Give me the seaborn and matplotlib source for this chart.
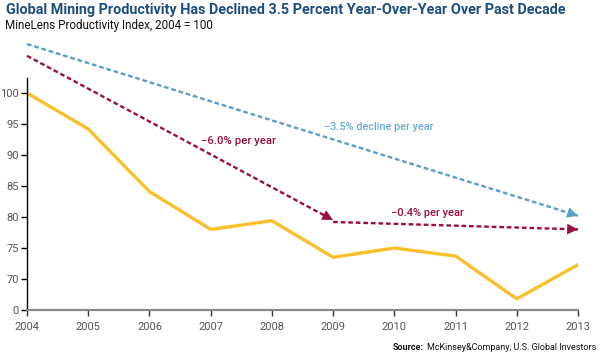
import matplotlib
matplotlib.use("Agg")
import matplotlib.pyplot as plt
import seaborn as sns
import pandas as pd

# ---- data ----
years = [2004, 2005, 2006, 2007, 2008, 2009, 2010, 2011, 2012, 2013]
productivity = [100.0, 94.2, 84.1, 78.0, 79.4, 73.5, 75.0, 73.7, 66.8, 72.3]

blue_years = [2004, 2013]
blue_vals = [107.9, 80.2]
red1_years = [2004, 2009]
red1_vals = [106.0, 79.5]
red2_years = [2009, 2013]
red2_vals = [79.2, 78.0]

ytick_vals = [65, 70, 75, 80, 85, 90, 95, 100]
ytick_labels = ["0", "70", "75", "80", "85", "90", "95", "100"]
xtick_labels = [str(y) for y in years]

title = "Global Mining Productivity Has Declined 3.5 Percent Year-Over-Year Over Past Decade"
subtitle = "MineLens Productivity Index, 2004 = 100"

YELLOW = "#f9c02c"
BLUE = "#5b9ec6"
RED = "#9a0f3e"
NAVY = "#1d4e7d"
GRAY = "#555555"

sns.set_theme(style="white")
plt.rcParams["font.family"] = ["Roboto", "DejaVu Sans"]

fig = plt.figure(figsize=(6.0, 3.58), dpi=100)
ax = fig.add_axes([27/600, 48/358, 551/600, 279/358])

df = pd.DataFrame({"year": years, "value": productivity})
sns.lineplot(data=df, x="year", y="value", ax=ax, color=YELLOW, lw=2.4)


def trend(xs, ys, color):
    ax.plot(xs, ys, color=color, lw=1.7, dashes=(2.0, 1.2), clip_on=False,
            dash_capstyle="butt")
    dx = xs[-1] - xs[-2]
    dy = ys[-1] - ys[-2]
    f = 0.12 / dx
    ax.annotate("", xy=(xs[-1], ys[-1]),
                xytext=(xs[-1] - dx * f, ys[-1] - dy * f),
                arrowprops=dict(arrowstyle="-|>,head_length=0.65,head_width=0.32",
                                color=color, lw=0, shrinkA=0, shrinkB=0),
                annotation_clip=False)


trend(blue_years, blue_vals, BLUE)
trend(red1_years, red1_vals, RED)
trend(red2_years, red2_vals, RED)

renderer = fig.canvas.get_renderer()


def fit(t, width_px):
    for _ in range(4):
        w = t.get_window_extent(renderer).width
        t.set_fontsize(t.get_fontsize() * width_px / w)
    return t


fit(ax.text(2008.85, 94.5, "\u22123.5% decline per year", color="#6aaad3",
            fontsize=9, fontweight="medium", ha="left", va="center"), 110)
fit(ax.text(2006.85, 92.3, "\u22126.0% per year", color=RED,
            fontsize=9, fontweight="medium", ha="left", va="center"), 74)
fit(ax.text(2009.95, 80.6, "\u22120.4% per year", color=RED,
            fontsize=9, fontweight="medium", ha="left", va="center"), 73)

ax.set_xlim(2004, 2013)
ax.set_ylim(65, 110)
ax.set_xticks(years)
ax.set_xticklabels(xtick_labels)
ax.set_yticks(ytick_vals)
ax.set_yticklabels(ytick_labels)
ax.set_xlabel("")
ax.set_ylabel("")

for s in ["top", "right"]:
    ax.spines[s].set_visible(False)
ax.spines["left"].set_color("black")
ax.spines["left"].set_linewidth(1.0)
ax.spines["left"].set_bounds(65, 102.4)
ax.spines["bottom"].set_color("#888888")
ax.spines["bottom"].set_linewidth(1.6)

ax.tick_params(axis="y", which="both", left=True, length=4, width=1, color="black",
               labelsize=8, labelcolor=GRAY, pad=2)
ax.tick_params(axis="x", which="both", bottom=True, length=4, width=1, color="#333333",
               labelsize=8, labelcolor=GRAY, pad=5)
ax.grid(False)

t1 = fig.text(6/600, 1 - 10/358, title, fontsize=11, fontweight="bold", color=NAVY,
              ha="left", va="center")
fit(t1, 563)
t2 = fig.text(5/600, 1 - 25/358, subtitle, fontsize=9.5, color="#111111",
              ha="left", va="center")
fit(t2, 208)

src_bold = fig.text(393/600, 1 - 347/358, "Source:", fontsize=8.5, fontweight="bold",
                    color="#111111", ha="left", va="center")
src_rest = fig.text(0, 1 - 347/358, "McKinsey&Company, U.S. Global Investors",
                    fontsize=8.5, color="#111111", ha="left", va="center")
for _ in range(4):
    wb = src_bold.get_window_extent(renderer).width
    wr = src_rest.get_window_extent(renderer).width
    scale = (597 - 393 - 3) / (wb + wr)
    src_bold.set_fontsize(src_bold.get_fontsize() * scale)
    src_rest.set_fontsize(src_rest.get_fontsize() * scale)
wb = src_bold.get_window_extent(renderer).width
src_rest.set_x((393 + wb + 3) / 600)

fig.savefig("out.png", dpi=100)
